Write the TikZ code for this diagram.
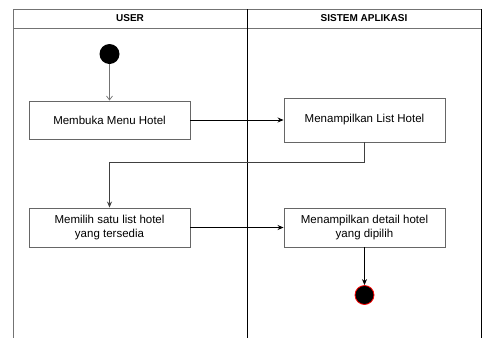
\documentclass[tikz,border=0pt]{standalone}
\usepackage{fontspec}
\setmainfont{Liberation Sans}
\usetikzlibrary{arrows.meta}
\begin{document}
\begin{tikzpicture}[x=1pt,y=-1pt,
  lane/.style={draw=black!55, line width=1pt},
  divider/.style={draw=black, line width=1pt},
  act/.style={draw=black!60, line width=0.9pt, rectangle, minimum width=161pt, align=center, font=\fontsize{11.5}{13.5}\selectfont, inner sep=2pt},
  flow/.style={draw=black, line width=0.8pt, -{Stealth[length=6pt,width=5pt]}},
  startflow/.style={draw=black!55, line width=0.7pt, -{Straight Barb[length=4pt,width=6pt]}},
  hdr/.style={font=\fontsize{10}{12}\selectfont\bfseries}
]
\useasboundingbox (0,0) rectangle (484,338);
% swimlanes
\draw[lane] (13,9) -- (481,9);
\draw[lane] (13,28) -- (481,28);
\draw[lane] (13,9) -- (13,338);
\draw[divider] (481,9) -- (481,338);
\draw[divider] (247,9) -- (247,338);
\node[hdr] (h1) at (130,18.5) {USER};
\node[hdr] (h2) at (364,18.5) {SISTEM APLIKASI};
% nodes
\node[circle, fill=black, minimum size=20pt, inner sep=0pt] (start) at (109.5,54) {};
\node[act, minimum height=38pt] (b1) at (109.5,120) {Membuka Menu Hotel};
\node[act, minimum height=44pt] (b2) at (364.5,120) {Menampilkan List Hotel};
\node[act, minimum height=39pt] (b3) at (109.5,227.5) {Memilih satu list hotel\\yang tersedia};
\node[act, minimum height=39pt] (b4) at (364.5,227.5) {Menampilkan detail hotel\\yang dipilih};
\node[circle, fill=black, draw=red, line width=0.8pt, minimum size=19pt, inner sep=0pt] (end) at (364.5,295) {};
% connectors
\draw[startflow] (start) -- (b1.north);
\draw[flow] (b1) -- (b2);
\draw[flow, draw=black!75] (b2.south) -- ++(0,20) -| (b3.north);
\draw[flow] (b3) -- (b4);
\draw[flow] (b4) -- (end);
\end{tikzpicture}
\end{document}
